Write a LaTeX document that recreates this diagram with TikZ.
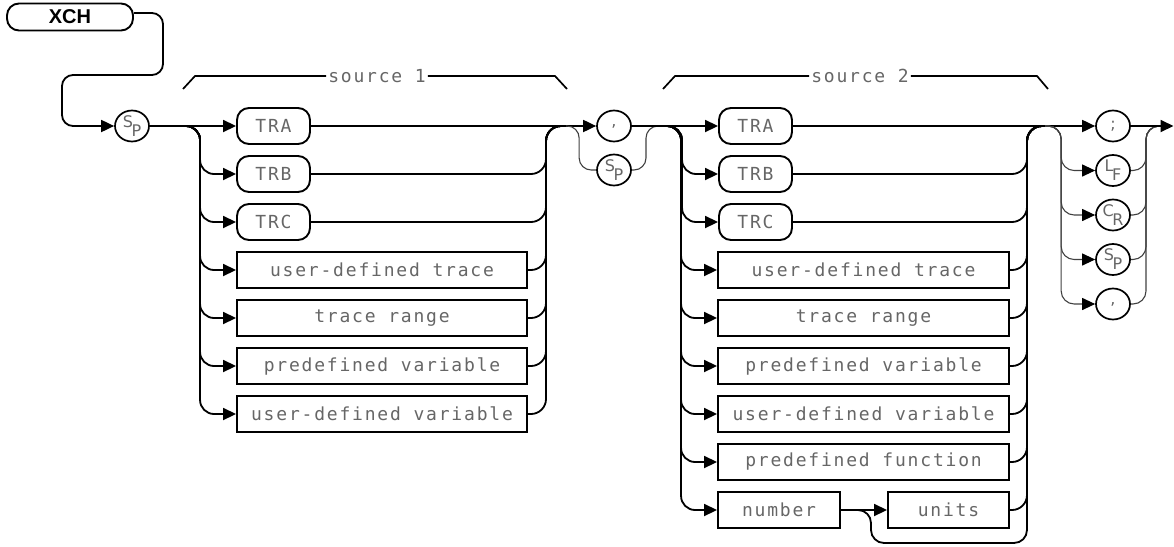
\documentclass[tikz,border=0pt]{standalone}
\usepackage{fontspec}
\setmainfont{Liberation Sans}
\newfontfamily\plotfont{DejaVu Sans Mono}[LetterSpace=10]
\newfontfamily\plotfontb{DejaVu Sans}
\usetikzlibrary{arrows.meta,shapes.geometric}
\newcommand\plotsz{\plotfont\fontsize{18}{20}\selectfont}
\newcommand\subsz{\plotfontb\fontsize{16}{18}\selectfont}
\newcommand\twolet[2]{\raisebox{3.5pt}{#1}\kern-1.5pt\raisebox{-5.5pt}{#2}}
\begin{document}
\begin{tikzpicture}[x=1pt,y=-1pt,
  conn/.style={line width=1.8pt},
  arr/.style={conn,-{Triangle[length=13pt,width=12pt]}},
  dconn/.style={line width=1.1pt,black!75},
  darr/.style={dconn,-{Triangle[length=13pt,width=12pt,fill=black,color=black]}},
  rbox/.style={draw,line width=1.9pt,rounded corners=12pt,minimum width=73pt,minimum height=36pt,inner sep=0pt,font=\plotsz,text=black!60},
  sbox/.style={draw,line width=1.9pt,minimum height=36pt,inner sep=0pt,font=\plotsz,text=black!60},
  circ/.style={draw,ellipse,line width=1.7pt,minimum width=34pt,minimum height=31pt,inner sep=0pt,font=\subsz,text=black!60},
  lbl/.style={font=\plotsz,text=black!60,inner sep=2pt},
  brk/.style={line width=1.7pt}
]
\useasboundingbox (0,0) rectangle (1174,546);

% title
\node[draw,line width=1.9pt,rounded corners=12pt,minimum width=126pt,minimum height=27pt,inner sep=0pt,font=\bfseries\fontsize{20}{22}\selectfont] (xch) at (70,17) {XCH};
\node[circ] (sp0) at (132,126) {\twolet{S}{P}};

% source 1
\node[rbox] (tra1) at (273.5,126) {TRA};
\node[rbox] (trb1) at (273.5,174) {TRB};
\node[rbox] (trc1) at (273.5,222) {TRC};
\node[sbox,minimum width=290pt] (udt1) at (382,270) {user-defined trace};
\node[sbox,minimum width=290pt] (tr1) at (382,318) {trace range};
\node[sbox,minimum width=290pt] (pv1) at (382,366) {predefined variable};
\node[sbox,minimum width=290pt] (udv1) at (382,414) {user-defined variable};

% separators
\node[circ] (comma) at (614,126) {,};
\node[circ] (sp1) at (614,170) {\twolet{S}{P}};

% source 2
\node[rbox] (tra2) at (755.5,126) {TRA};
\node[rbox] (trb2) at (755.5,174) {TRB};
\node[rbox] (trc2) at (755.5,222) {TRC};
\node[sbox,minimum width=291pt] (udt2) at (863.5,270) {user-defined trace};
\node[sbox,minimum width=291pt] (tr2) at (863.5,318) {trace range};
\node[sbox,minimum width=291pt] (pv2) at (863.5,366) {predefined variable};
\node[sbox,minimum width=291pt] (udv2) at (863.5,414) {user-defined variable};
\node[sbox,minimum width=291pt] (pf2) at (863.5,462) {predefined function};
\node[sbox,minimum width=122pt] (num2) at (779,510) {number};
\node[sbox,minimum width=121pt] (units2) at (948.5,510) {units};

% terminators
\node[circ] (semi) at (1113,126) {;};
\node[circ] (lf) at (1113,170.5) {\twolet{L}{F}};
\node[circ] (cr) at (1113,215) {\twolet{C}{R}};
\node[circ] (spt) at (1113,259.5) {\twolet{S}{P}};
\node[circ] (cm) at (1113,304) {,};

% brackets
\node[lbl] (s1lbl) at (377,76) {source 1};
\node[lbl] (s2lbl) at (860,76) {source 2};
\draw[brk] (183,89) -- (195,76) -- (s1lbl.west);
\draw[brk] (s1lbl.east) -- (555,76) -- (567,89);
\draw[brk] (663,89) -- (675,76) -- (s2lbl.west);
\draw[brk] (s2lbl.east) -- (1037,76) -- (1048,89);

% coordinates
\coordinate (s1a) at (186,126);
\coordinate (s1b) at (562,126);
\coordinate (c1) at (566,126);
\coordinate (c2) at (660,126);
\coordinate (s2a) at (668,126);
\coordinate (s2b) at (1043,126);
\coordinate (s2v) at (1027,126);
\coordinate (nb) at (857,510);
\coordinate (t1) at (1045,126);
\coordinate (t2) at (1160,126);
\coordinate (fin) at (1173.5,126);

% title to SP
\draw[arr,rounded corners=11pt] ([yshift=4pt]xch.east) -| (163,75) -| (62,126) -- (sp0.west);
\draw[arr] (sp0.east) -- (tra1.west);

% source 1 branches
\foreach \n in {trb1,trc1,udt1,tr1,pv1,udv1}{
  \draw[arr,rounded corners=14pt] (s1a) -| ([xshift=-36pt]\n.west) -- (\n.west);
  \draw[conn,rounded corners=15pt] (\n.east) -| ([xshift=-16pt]s1b) -- (s1b);
}
\draw[arr] (tra1.east) -- (comma.west);

% SP bypass
\draw[dconn,rounded corners=12pt] (c1) -| ([xshift=-17pt]sp1.west) -- (sp1.west);
\draw[dconn,rounded corners=12pt] (sp1.east) -| ([xshift=-14pt]c2) -- (c2);
\draw[arr] (comma.east) -- (tra2.west);

% source 2 branches
\foreach \n in {trb2,trc2,udt2,tr2,pv2,udv2,pf2,num2}{
  \draw[arr,rounded corners=14pt] (s2a) -| ([xshift=-36pt]\n.west) -- (\n.west);
}
\foreach \n in {trb2,trc2,udt2,tr2,pv2,udv2,pf2,units2}{
  \draw[conn,rounded corners=15pt] (\n.east) -| (s2v) -- (s2b);
}
\draw[arr] (num2.east) -- (units2.west);
\draw[conn,rounded corners=13pt] (num2.east) -- (nb) -| (871,543) -| (units2.north -| s2v);
\draw[arr] (tra2.east) -- (semi.west);

% terminators
\foreach \n in {lf,cr,spt,cm}{
  \draw[darr,rounded corners=13pt] (t1) -| ([xshift=-34pt]\n.west) -- (\n.west);
  \draw[dconn,rounded corners=13pt] (\n.east) -| ([xshift=-14pt]t2) -- (t2);
}
\draw[arr] (semi.east) -- (fin);
\end{tikzpicture}
\end{document}
